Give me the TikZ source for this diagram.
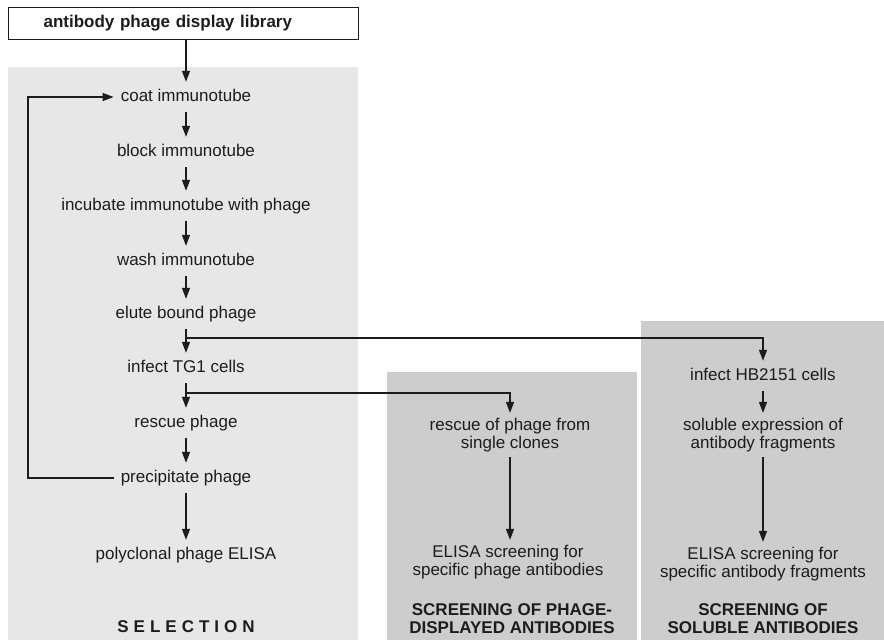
\documentclass[tikz,border=0pt]{standalone}
\usepackage{fontspec}
\setmainfont{Liberation Sans}
\usetikzlibrary{arrows.meta}
\definecolor{selgray}{RGB}{231,231,231}
\definecolor{scrgray}{RGB}{205,205,205}
\definecolor{ink}{RGB}{28,28,28}
\begin{document}
\begin{tikzpicture}[x=1pt,y=-1pt,
  every node/.style={font=\fontsize{17}{18}\selectfont, text=ink},
  stepnode/.style={text height=12pt,text depth=4pt,inner xsep=7pt,inner ysep=7pt},
  twoline/.style={align=center,inner sep=5pt},
  heading/.style={align=center,inner sep=0pt,font=\bfseries\fontsize{17}{18}\selectfont},
  arr/.style={draw=ink,line width=1.4pt,-{Triangle[length=11pt,width=8pt]}},
  ln/.style={draw=ink,line width=1.4pt}]
\useasboundingbox (0,0) rectangle (884,640);
% panels
\fill[selgray] (8,67) rectangle (358,640);
\fill[scrgray] (387,372) rectangle (637,640);
\fill[scrgray] (641,321) rectangle (884,640);
% library box
\node[draw=ink,line width=1.2pt,fill=white,anchor=north west,text width=280pt,align=left,
  inner xsep=35pt,inner ysep=8pt,text height=12pt,text depth=4pt,
  font=\bfseries\fontsize{17}{18}\selectfont] (lib) at (8,7) {antibody phage display library};
% selection column
\node[stepnode] (coat)  at (186,97)  {coat immunotube};
\node[stepnode] (block) at (186,152) {block immunotube};
\node[stepnode] (incub) at (186,206) {incubate immunotube with phage};
\node[stepnode] (wash)  at (186,261) {wash immunotube};
\node[stepnode] (elute) at (186,314) {elute bound phage};
\node[stepnode] (tg1)   at (186,368) {infect TG1 cells};
\node[stepnode] (resc)  at (186,423) {rescue phage};
\node[stepnode] (prec)  at (186,478) {precipitate phage};
\node[stepnode] (poly)  at (186,555) {polyclonal phage ELISA};
\node[heading] (selh) at (186,627) {S\kern5pt E\kern5pt L\kern5pt E\kern5pt C\kern5pt T\kern5pt I\kern5pt O\kern5pt N};
% phage screening column
\node[twoline] (rs)  at (510,435) {rescue of phage from\\single clones};
\node[twoline] (el1) at (508,562) {ELISA screening for\\specific phage antibodies};
\node[heading] (h1)  at (512,619) {SCREENING OF PHAGE-\\DISPLAYED ANTIBODIES};
% soluble screening column
\node[stepnode] (hb) at (763,376) {infect HB2151 cells};
\node[twoline] (sol) at (763,435) {soluble expression of\\antibody fragments};
\node[twoline] (el2) at (763,564) {ELISA screening for\\specific antibody fragments};
\node[heading] (h2)  at (763,619) {SCREENING OF\\SOLUBLE ANTIBODIES};
% connectors
\draw[arr] (lib.south -| coat.north) -- (coat.north);
\draw[arr] (coat) -- (block);
\draw[arr] (block) -- (incub);
\draw[arr] (incub) -- (wash);
\draw[arr] (wash) -- (elute);
\draw[arr] (elute) -- (tg1);
\draw[arr] (tg1) -- (resc);
\draw[arr] (resc) -- (prec);
\draw[arr] (prec) -- (poly);
\coordinate (b1) at (186,338);
\coordinate (b2) at (186,393);
\coordinate (lx) at (28,0);
\draw[arr] (b1) -| (hb.north);
\draw[arr] (b2) -| (rs.north);
\draw[arr] (hb) -- (sol);
\draw[arr] (sol) -- (el2);
\draw[arr] (rs.south) -- (rs.south |- el1.north);
\draw[arr] (prec.west) -- (prec.west -| lx) |- (coat.west);
\end{tikzpicture}
\end{document}
